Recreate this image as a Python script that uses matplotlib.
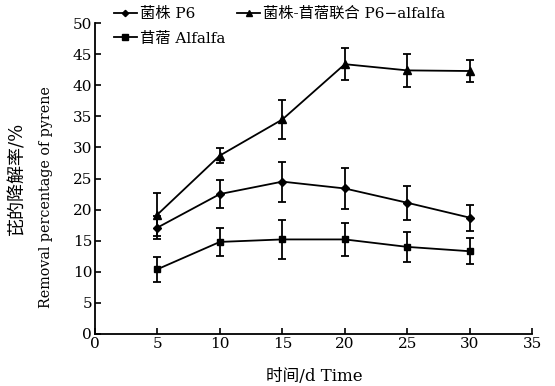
"""Pyrene removal over time: strain P6, alfalfa, and combined treatment."""
import matplotlib; matplotlib.use('Agg'); import matplotlib.pyplot as plt

plt.rcParams['font.family'] = ['DejaVu Serif', 'Noto Sans CJK SC']
plt.rcParams['axes.unicode_minus'] = False

days = [5, 10, 15, 20, 25, 30]
p6 = [17.1, 22.5, 24.5, 23.4, 21.1, 18.7]
p6_err = [1.8, 2.2, 3.2, 3.3, 2.7, 2.1]
alfalfa = [10.4, 14.8, 15.2, 15.2, 14.0, 13.3]
alfalfa_err = [2.05, 2.3, 3.1, 2.6, 2.4, 2.1]
combo = [19.2, 28.7, 34.5, 43.4, 42.4, 42.3]
combo_err = [3.4, 1.2, 3.2, 2.6, 2.7, 1.7]

fig = plt.figure(figsize=(5.55, 3.86), dpi=100)
ax = fig.add_axes([0.171, 0.135, 0.788, 0.805])
kw = dict(color='black', lw=1.3, capsize=3, capthick=1.3, elinewidth=1.3)
h1 = ax.errorbar(days, p6, yerr=p6_err, marker='D', ms=4, **kw)
h2 = ax.errorbar(days, alfalfa, yerr=alfalfa_err, marker='s', ms=5, **kw)
h3 = ax.errorbar(days, combo, yerr=combo_err, marker='^', ms=6, **kw)

ax.set_xlim(0, 35); ax.set_ylim(0, 50)
ax.set_xticks(range(0, 36, 5)); ax.set_yticks(range(0, 51, 5))
ax.tick_params(direction='in', length=4, width=1.2, labelsize=11, pad=2)
for s in ('top', 'right'): ax.spines[s].set_visible(False)
for s in ('left', 'bottom'): ax.spines[s].set_linewidth(1.3)

# axis titles placed in figure coords (two-line bilingual y title)
fig.text(0.566, 0.024, '时间/d Time', fontsize=12, ha='center', va='center')
fig.text(0.032, 0.539, '芘的降解率/%', fontsize=13, rotation=90, ha='center', va='center')
fig.text(0.083, 0.49, 'Removal percentage of pyrene', fontsize=10.3, rotation=90, ha='center', va='center')

leg = fig.legend([h1[0], h2[0], h3[0]], ['菌株 P6', '苜蓿 Alfalfa', '菌株-苜蓿联合 P6−alfalfa'],
                 ncol=2, loc='upper left', bbox_to_anchor=(0.18, 1.018), frameon=False, fontsize=11,
                 handlelength=1.5, handletextpad=0.2, columnspacing=0.8, labelspacing=0.7,
                 markerscale=0.8)
fig.savefig('out.png', dpi=100)
